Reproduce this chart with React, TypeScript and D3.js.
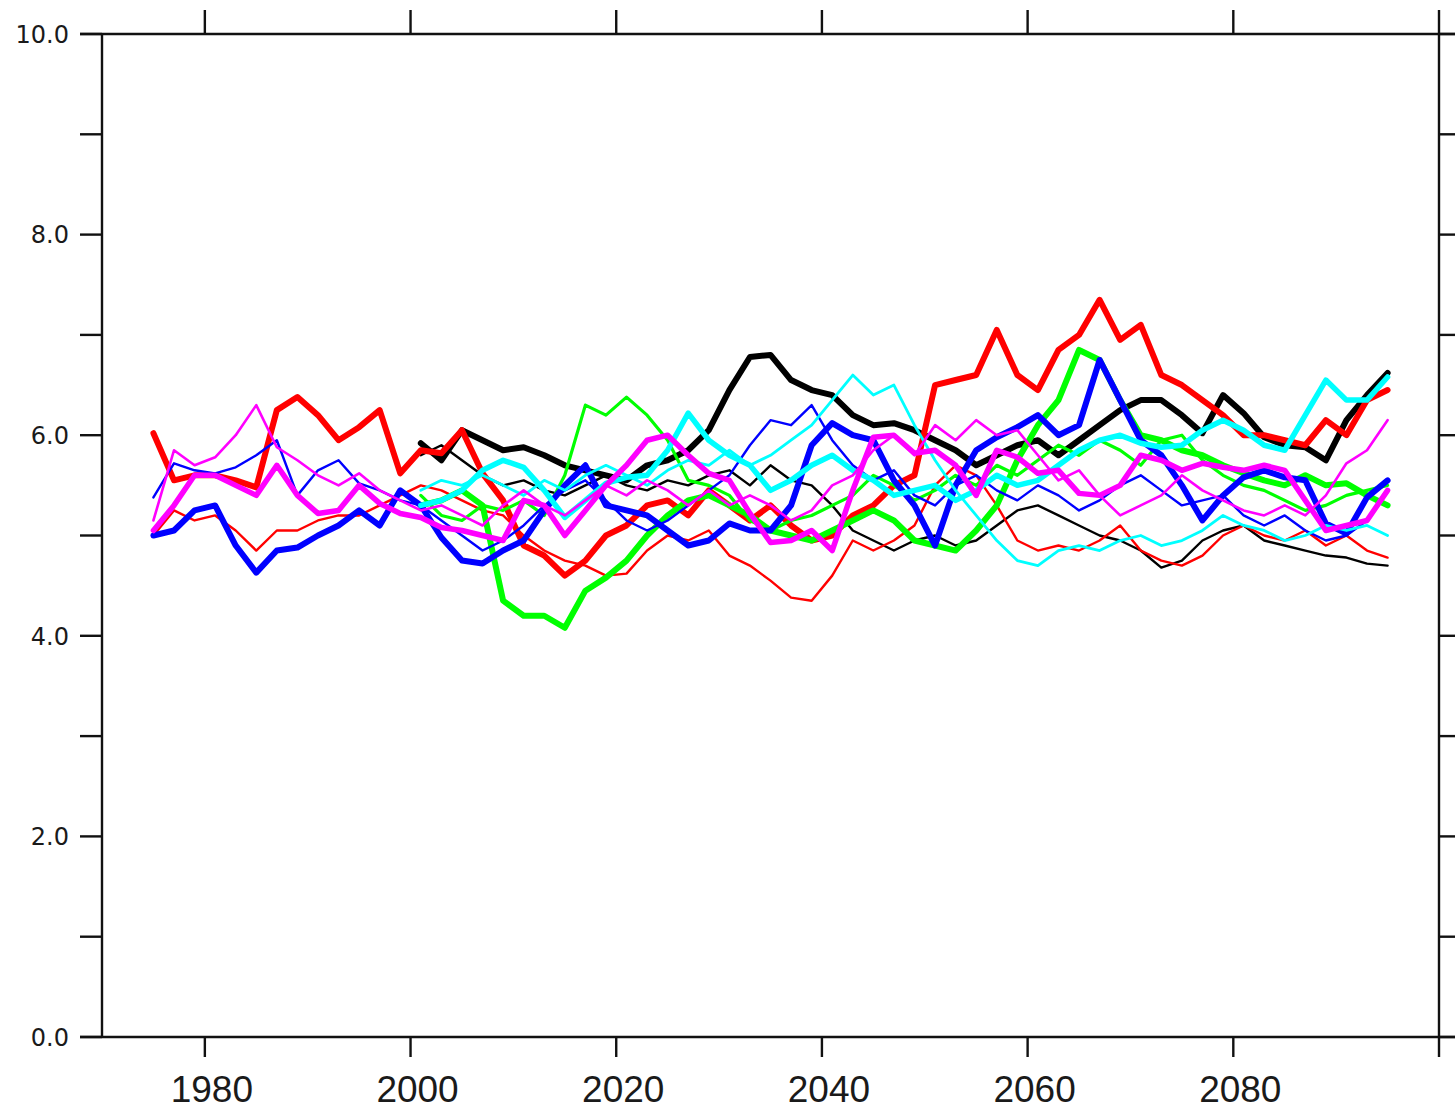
import React from "react";
import * as d3 from "d3";

// ---- axis / tick data ----
const X_DOMAIN = [1970, 2100];
const Y_DOMAIN = [0, 10];
const X_TICKS = [1980, 2000, 2020, 2040, 2060, 2080, 2100];
const X_LABELS = [1980, 2000, 2020, 2040, 2060, 2080];
const Y_TICKS = [0, 1, 2, 3, 4, 5, 6, 7, 8, 9, 10];
const Y_LABELS = [0, 2, 4, 6, 8, 10];

// ---- years ----
const YEARS_FULL = [
  1975, 1977, 1979, 1981, 1983, 1985, 1987, 1989, 1991, 1993,
  1995, 1997, 1999, 2001, 2003, 2005, 2007, 2009, 2011, 2013,
  2015, 2017, 2019, 2021, 2023, 2025, 2027, 2029, 2031, 2033,
  2035, 2037, 2039, 2041, 2043, 2045, 2047, 2049, 2051, 2053,
  2055, 2057, 2059, 2061, 2063, 2065, 2067, 2069, 2071, 2073,
  2075, 2077, 2079, 2081, 2083, 2085, 2087, 2089, 2091, 2093,
  2095,
];
const YEARS_LATE = [
  2001, 2003, 2005, 2007, 2009, 2011, 2013, 2015, 2017, 2019,
  2021, 2023, 2025, 2027, 2029, 2031, 2033, 2035, 2037, 2039,
  2041, 2043, 2045, 2047, 2049, 2051, 2053, 2055, 2057, 2059,
  2061, 2063, 2065, 2067, 2069, 2071, 2073, 2075, 2077, 2079,
  2081, 2083, 2085, 2087, 2089, 2091, 2093, 2095,
];

// ---- series values (full period 1975-2095) ----
const RED_THICK = [
  6.02, 5.55, 5.6, 5.6, 5.55,
  5.48, 6.25, 6.38, 6.2, 5.95,
  6.08, 6.25, 5.62, 5.85, 5.82,
  6.05, 5.62, 5.35, 4.9, 4.8,
  4.6, 4.75, 5.0, 5.1, 5.3,
  5.35, 5.2, 5.45, 5.3, 5.15,
  5.3, 5.1, 4.95, 5.0, 5.2,
  5.3, 5.5, 5.6, 6.5, 6.55,
  6.6, 7.05, 6.6, 6.45, 6.85,
  7.0, 7.35, 6.95, 7.1, 6.6,
  6.5, 6.35, 6.2, 6.0, 6.0,
  5.95, 5.9, 6.15, 6.0, 6.35,
  6.45,
];
const RED_THIN = [
  5.0, 5.25, 5.15, 5.2, 5.05,
  4.85, 5.05, 5.05, 5.15, 5.2,
  5.2, 5.3, 5.4, 5.5, 5.45,
  5.35, 5.25, 5.2, 5.0, 4.85,
  4.75, 4.7, 4.6, 4.62, 4.85,
  5.0, 4.95, 5.05, 4.8, 4.7,
  4.55, 4.38, 4.35, 4.6, 4.95,
  4.85, 4.95, 5.1, 5.5, 5.7,
  5.6, 5.3, 4.95, 4.85, 4.9,
  4.85, 4.95, 5.1, 4.85, 4.75,
  4.7, 4.8, 5.0, 5.1, 5.0,
  4.95, 5.05, 4.9, 5.0, 4.85,
  4.78,
];
const BLUE_THICK = [
  5.0, 5.05, 5.25, 5.3, 4.9,
  4.63, 4.85, 4.88, 5.0, 5.1,
  5.25, 5.1, 5.45, 5.3, 4.98,
  4.75, 4.72, 4.85, 4.95, 5.25,
  5.5, 5.7, 5.3, 5.25, 5.2,
  5.05, 4.9, 4.95, 5.12, 5.05,
  5.05, 5.3, 5.9, 6.12, 6.0,
  5.95, 5.55, 5.3, 4.9, 5.5,
  5.85, 5.98, 6.08, 6.2, 6.0,
  6.1, 6.75, 6.35, 5.95, 5.8,
  5.5, 5.15, 5.4, 5.58, 5.65,
  5.58, 5.55, 5.12, 5.02, 5.38,
  5.55,
];
const BLUE_THIN = [
  5.38, 5.72, 5.65, 5.62, 5.68,
  5.8, 5.95, 5.4, 5.65, 5.75,
  5.52, 5.45, 5.35, 5.3, 5.15,
  5.0, 4.85, 4.95, 5.1, 5.3,
  5.45, 5.55, 5.35, 5.15, 5.05,
  5.15, 5.3, 5.45, 5.6, 5.9,
  6.15, 6.1, 6.3, 5.95, 5.7,
  5.55, 5.65, 5.4, 5.3, 5.5,
  5.6, 5.45, 5.35, 5.5, 5.4,
  5.25, 5.35, 5.5, 5.6, 5.45,
  5.3, 5.35, 5.4, 5.2, 5.1,
  5.2, 5.05, 4.95, 5.0, 5.15,
  5.45,
];
const MAGENTA_THICK = [
  5.05, 5.3, 5.6, 5.6, 5.5,
  5.4, 5.7, 5.4, 5.22, 5.25,
  5.5, 5.32, 5.22, 5.18, 5.08,
  5.05, 5.0, 4.95, 5.35, 5.3,
  5.0, 5.25, 5.5, 5.7, 5.95,
  6.0, 5.8, 5.62, 5.55, 5.22,
  4.93, 4.95, 5.05, 4.85, 5.45,
  5.98, 6.0, 5.82, 5.85, 5.7,
  5.4, 5.85, 5.78, 5.62, 5.65,
  5.42, 5.4, 5.5, 5.8, 5.75,
  5.65, 5.72, 5.68, 5.65, 5.7,
  5.65, 5.35, 5.05, 5.1, 5.15,
  5.45,
];
const MAGENTA_THIN = [
  5.15, 5.85, 5.7, 5.78, 6.0,
  6.3, 5.88, 5.75, 5.6, 5.5,
  5.62, 5.45, 5.35, 5.25, 5.3,
  5.2, 5.1, 5.3, 5.45, 5.3,
  5.2, 5.35, 5.5, 5.4, 5.55,
  5.45, 5.3, 5.45, 5.3, 5.4,
  5.3, 5.15, 5.25, 5.5, 5.6,
  5.85, 6.0, 5.8, 6.1, 5.95,
  6.15, 6.0, 6.05, 5.8, 5.55,
  5.65, 5.4, 5.2, 5.3, 5.4,
  5.6, 5.45, 5.35, 5.25, 5.2,
  5.3, 5.2, 5.4, 5.72, 5.85,
  6.15,
];

// ---- series values (2001-2095) ----
const BLACK_THICK = [
  5.92, 5.75, 6.05, 5.95, 5.85,
  5.88, 5.8, 5.7, 5.65, 5.6,
  5.55, 5.7, 5.75, 5.85, 6.05,
  6.45, 6.78, 6.8, 6.55, 6.45,
  6.4, 6.2, 6.1, 6.12, 6.05,
  5.95, 5.85, 5.7, 5.8, 5.9,
  5.95, 5.8, 5.95, 6.1, 6.25,
  6.35, 6.35, 6.2, 6.02, 6.4,
  6.22, 5.98, 5.9, 5.88, 5.75,
  6.15, 6.4, 6.62,
];
const BLACK_THIN = [
  5.8, 5.9, 5.75, 5.6, 5.5,
  5.55, 5.45, 5.4, 5.5, 5.6,
  5.5, 5.45, 5.55, 5.5, 5.6,
  5.65, 5.5, 5.7, 5.55, 5.5,
  5.3, 5.05, 4.95, 4.85, 4.95,
  5.0, 4.9, 4.95, 5.1, 5.25,
  5.3, 5.2, 5.1, 5.0, 4.95,
  4.85, 4.68, 4.75, 4.95, 5.05,
  5.1, 4.95, 4.9, 4.85, 4.8,
  4.78, 4.72, 4.7,
];
const GREEN_THICK = [
  5.3, 5.35, 5.45, 5.3, 4.35,
  4.2, 4.2, 4.08, 4.45, 4.58,
  4.75, 5.0, 5.2, 5.35, 5.4,
  5.3, 5.2, 5.05, 5.0, 4.95,
  5.05, 5.15, 5.25, 5.15, 4.95,
  4.9, 4.85, 5.05, 5.3, 5.75,
  6.1, 6.35, 6.85, 6.75, 6.35,
  6.0, 5.95, 5.85, 5.8, 5.7,
  5.62, 5.55, 5.5, 5.6, 5.5,
  5.52, 5.4, 5.3,
];
const GREEN_THIN = [
  5.4, 5.2, 5.15, 5.3, 5.25,
  5.35, 5.2, 5.6, 6.3, 6.2,
  6.38, 6.2, 5.95, 5.55, 5.5,
  5.4, 5.15, 5.05, 5.15, 5.2,
  5.3, 5.4, 5.6, 5.5, 5.35,
  5.45, 5.6, 5.5, 5.7, 5.6,
  5.75, 5.9, 5.8, 5.95, 5.85,
  5.7, 5.95, 6.0, 5.75, 5.6,
  5.5, 5.45, 5.35, 5.25, 5.3,
  5.4, 5.45, 5.5,
];
const CYAN_THICK = [
  5.3, 5.35, 5.45, 5.65, 5.75,
  5.68, 5.45, 5.18, 5.35, 5.52,
  5.58, 5.6, 5.85, 6.22, 5.95,
  5.8, 5.7, 5.45, 5.55, 5.7,
  5.8, 5.65, 5.55, 5.4, 5.45,
  5.5, 5.35, 5.45, 5.6, 5.5,
  5.55, 5.7, 5.85, 5.95, 6.0,
  5.92, 5.88, 5.9, 6.05, 6.15,
  6.05, 5.9, 5.85, 6.2, 6.55,
  6.35, 6.35, 6.58,
];
const CYAN_THIN = [
  5.45, 5.55, 5.5, 5.6, 5.5,
  5.4, 5.55, 5.45, 5.6, 5.7,
  5.6, 5.5, 5.65, 5.75, 5.7,
  5.85, 5.7, 5.8, 5.95, 6.1,
  6.35, 6.6, 6.4, 6.5, 6.1,
  5.75, 5.45, 5.2, 4.95, 4.75,
  4.7, 4.85, 4.9, 4.85, 4.95,
  5.0, 4.9, 4.95, 5.05, 5.2,
  5.1, 5.05, 4.95, 5.0, 5.1,
  5.05, 5.1, 5.0,
];

const SERIES = [
  { color: "#000000", width: 6, years: YEARS_LATE, values: BLACK_THICK },
  { color: "#000000", width: 2.4, years: YEARS_LATE, values: BLACK_THIN },
  { color: "#ff0000", width: 6, years: YEARS_FULL, values: RED_THICK },
  { color: "#ff0000", width: 2.4, years: YEARS_FULL, values: RED_THIN },
  { color: "#00ff00", width: 6, years: YEARS_LATE, values: GREEN_THICK },
  { color: "#00ff00", width: 3.2, years: YEARS_LATE, values: GREEN_THIN },
  { color: "#0000ff", width: 6, years: YEARS_FULL, values: BLUE_THICK },
  { color: "#0000ff", width: 2.4, years: YEARS_FULL, values: BLUE_THIN },
  { color: "#00ffff", width: 5.5, years: YEARS_LATE, values: CYAN_THICK },
  { color: "#00ffff", width: 2.8, years: YEARS_LATE, values: CYAN_THIN },
  { color: "#ff00ff", width: 5.5, years: YEARS_FULL, values: MAGENTA_THICK },
  { color: "#ff00ff", width: 2.6, years: YEARS_FULL, values: MAGENTA_THIN },
];

const W = 1455;
const H = 1109;
const LEFT = 102;
const RIGHT = 1439;
const TOP = 34;
const BOTTOM = 1037;

export default function App() {
  const x = d3.scaleLinear().domain(X_DOMAIN).range([LEFT, RIGHT]);
  const y = d3.scaleLinear().domain(Y_DOMAIN).range([BOTTOM, TOP]);
  const line = d3
    .line<[number, number]>()
    .x((d) => x(d[0]))
    .y((d) => y(d[1]))
    .curve(d3.curveLinear);
  const fmt = d3.format(".1f");
  const axisColor = "#111";
  const axisW = 2.4;

  return (
    <svg
      width={W}
      height={H}
      viewBox={`0 0 ${W} ${H}`}
      style={{ position: "absolute", left: 0, top: 0, background: "#fff" }}
    >
      <rect x={0} y={0} width={W} height={H} fill="#fff" />
      {/* series */}
      <g fill="none" strokeLinejoin="round" strokeLinecap="round">
        {SERIES.map((s, i) => (
          <path
            key={i}
            d={line(s.years.map((yr, k) => [yr, s.values[k]] as [number, number])) || ""}
            stroke={s.color}
            strokeWidth={s.width}
          />
        ))}
      </g>
      {/* frame */}
      <g stroke={axisColor} strokeWidth={axisW} fill="none">
        <line x1={LEFT - 22} x2={W} y1={TOP} y2={TOP} />
        <line x1={LEFT - 22} x2={W} y1={BOTTOM} y2={BOTTOM} />
        <line x1={LEFT} x2={LEFT} y1={TOP} y2={BOTTOM} />
        <line x1={RIGHT} x2={RIGHT} y1={TOP} y2={BOTTOM} />
        {Y_TICKS.map((t) => (
          <g key={"yt" + t}>
            <line x1={LEFT - 22} x2={LEFT} y1={y(t)} y2={y(t)} />
            <line x1={RIGHT} x2={RIGHT + 22} y1={y(t)} y2={y(t)} />
          </g>
        ))}
        {X_TICKS.map((t) => (
          <g key={"xt" + t}>
            <line x1={x(t)} x2={x(t)} y1={TOP} y2={TOP - 24} />
            <line x1={x(t)} x2={x(t)} y1={BOTTOM} y2={BOTTOM + 20} />
          </g>
        ))}
      </g>
      {/* labels */}
      <g fill="#1a1a1a" fontFamily="'DejaVu Sans', sans-serif" fontSize={24}>
        {Y_LABELS.map((t) => (
          <text key={"yl" + t} x={69} y={y(t) + 8.7} textAnchor="end">
            {fmt(t)}
          </text>
        ))}
      </g>
      <g fill="#1a1a1a" fontFamily="'Liberation Sans', Arial, sans-serif" fontSize={37}>
        {X_LABELS.map((t) => (
          <text key={"xl" + t} x={x(t) + 7} y={1102} textAnchor="middle">
            {t}
          </text>
        ))}
      </g>
    </svg>
  );
}
